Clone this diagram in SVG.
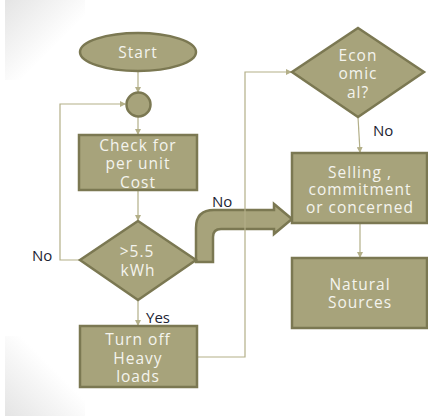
<svg xmlns="http://www.w3.org/2000/svg" width="428" height="416" viewBox="0 0 428 416">
<defs>
<linearGradient id="gTop" x1="0" y1="0" x2="1" y2="1"><stop offset="0" stop-color="#e4e4e4"/><stop offset="0.6" stop-color="#ffffff"/></linearGradient>
<linearGradient id="gBot" x1="0" y1="1" x2="1" y2="0"><stop offset="0" stop-color="#e4e4e4"/><stop offset="0.6" stop-color="#ffffff"/></linearGradient>
<marker id="ah" markerWidth="6" markerHeight="6" refX="5" refY="3" orient="auto" markerUnits="userSpaceOnUse"><path d="M0,0 L6,3 L0,6 Z" fill="#b3af88"/></marker>
<style>
.shape{fill:#a7a37b;stroke:#7b7852;stroke-width:2.5}
.t{font-family:"Open Sans","Liberation Sans",sans-serif;font-size:15.5px;fill:#f4f4ee;text-anchor:middle;letter-spacing:1px}
.lbl{font-family:"Open Sans","Liberation Sans",sans-serif;font-size:15px;fill:#1c2333}
.c{fill:none;stroke:#b3af88;stroke-width:1.2}
</style>
</defs>
<rect width="428" height="416" fill="#ffffff"/>
<rect x="5" y="0" width="80" height="80" fill="url(#gTop)"/>
<rect x="5" y="336" width="80" height="80" fill="url(#gBot)"/>
<g id="bent-arrow">
<path class="shape" stroke-width="2" d="M196,262 L196,228 Q196,210 214,210 L274,210 L274,204 L292,219 L274,234 L274,229 L221,229 Q213,229 213,237 L213,262 Z"/>
</g>
<g id="connectors">
<line class="c" x1="138" y1="72" x2="138" y2="92" marker-end="url(#ah)"/>
<line class="c" x1="138" y1="116" x2="138" y2="134" marker-end="url(#ah)"/>
<line class="c" x1="138" y1="190" x2="138" y2="220" marker-end="url(#ah)"/>
<polyline class="c" points="80,260 60,260 60,104 125,104" marker-end="url(#ah)"/>
<line class="c" x1="138" y1="300" x2="138" y2="325" marker-end="url(#ah)"/>
<polyline class="c" points="197,357 245,357 245,72 291,72" marker-end="url(#ah)"/>
<line class="c" x1="358" y1="117" x2="360" y2="152" marker-end="url(#ah)"/>
<line class="c" x1="360" y1="223" x2="360" y2="257" marker-end="url(#ah)"/>
</g>
<g id="start">
<ellipse class="shape" cx="138" cy="52" rx="58" ry="19"/>
<text class="t" x="138" y="58">Start</text>
</g>
<g id="junction">
<circle class="shape" cx="138.5" cy="104.5" r="12"/>
</g>
<g id="check">
<rect class="shape" x="79" y="135" width="118" height="55"/>
<text class="t" x="138" y="151">Check for</text>
<text class="t" x="138" y="169">per unit</text>
<text class="t" x="138" y="188">Cost</text>
</g>
<g id="decision-kwh">
<polygon class="shape" points="138,221 196,260 138,300 80,260"/>
<text class="t" x="137" y="257">&gt;5.5</text>
<text class="t" x="138" y="276">kWh</text>
</g>
<g id="turnoff">
<rect class="shape" x="80" y="326" width="117" height="61"/>
<text class="t" x="138" y="345">Turn off</text>
<text class="t" x="138" y="364">Heavy</text>
<text class="t" x="138" y="382">loads</text>
</g>
<g id="economical">
<polygon class="shape" points="358,28 424,72 358,117 292,72"/>
<text class="t" x="358" y="61">Econ</text>
<text class="t" x="358" y="79">omic</text>
<text class="t" x="358" y="98">al?</text>
</g>
<g id="selling">
<rect class="shape" x="292" y="153" width="135" height="70"/>
<text class="t" x="360" y="178">Selling ,</text>
<text class="t" x="360" y="195">commitment</text>
<text class="t" x="360" y="213">or concerned</text>
</g>
<g id="natural">
<rect class="shape" x="292" y="258" width="135" height="70"/>
<text class="t" x="360" y="290">Natural</text>
<text class="t" x="360" y="308">Sources</text>
</g>
<g id="labels">
<text class="lbl" x="32" y="261">No</text>
<text class="lbl" x="212" y="207">No</text>
<text class="lbl" x="146" y="323">Yes</text>
<text class="lbl" x="373" y="136">No</text>
</g>
</svg>
